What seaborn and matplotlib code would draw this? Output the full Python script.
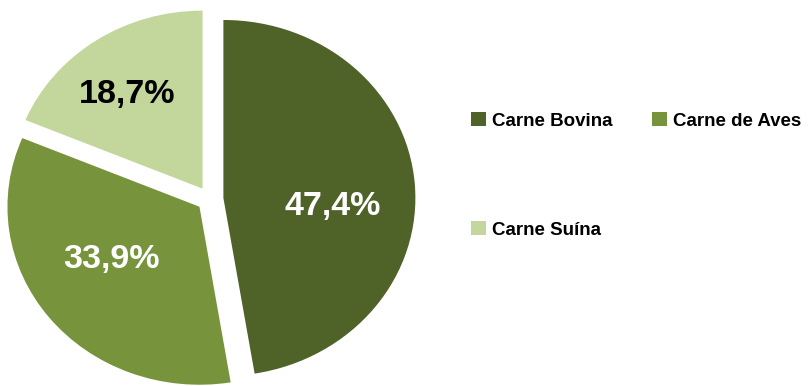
import matplotlib
matplotlib.use("Agg")
import matplotlib.pyplot as plt
import seaborn as sns

categories = ["Carne Bovina", "Carne de Aves", "Carne Suína"]
values = [47.4, 33.9, 18.7]
colors = ["#4F6228", "#77933C", "#C3D69B"]
label_colors = ["white", "white", "black"]

sns.set_style("white")
plt.rcParams["font.family"] = ["Liberation Sans", "DejaVu Sans"]

W, H = 808, 386
fig = plt.figure(figsize=(W / 100, H / 100), dpi=100)

# ellipse radii in pixels and center in pixels (from top)
rx, ry = 192, 178
cx, cy = 210, 199
lim = 1.2
aw, ah = 2 * lim * rx, 2 * lim * ry
ax = fig.add_axes([(cx - aw / 2) / W, ((H - cy) - ah / 2) / H, aw / W, ah / H])

wedges, texts, autotexts = ax.pie(
    values,
    colors=colors,
    startangle=90,
    counterclock=False,
    explode=[0.07] * len(values),
    autopct=lambda p: f"{p:.1f}%".replace(".", ","),
    pctdistance=0.6,
    wedgeprops=dict(linewidth=0),
    textprops=dict(fontsize=24.5, fontweight="bold"),
)
# small pixel nudges of the percentage labels (dx right, dy down)
nudges = [(-6, 17), (2, -13), (-12, -5)]
for t, c, (dx, dy) in zip(autotexts, label_colors, nudges):
    t.set_color(c)
    x, y = t.get_position()
    t.set_position((x + dx / rx, y - dy / ry))

ax.set_aspect("auto")
ax.set_xlim(-lim, lim)
ax.set_ylim(-lim, lim)
ax.axis("off")

order = [0, 2, 1]
leg = fig.legend(
    [wedges[i] for i in order],
    [categories[i] for i in order],
    ncol=2,
    loc="upper left",
    bbox_to_anchor=(471 / W, 1 - 112 / H),
    frameon=False,
    borderpad=0,
    borderaxespad=0,
    handlelength=0.8,
    handleheight=0.8,
    handletextpad=0.3,
    columnspacing=2.15,
    labelspacing=4.87,
    prop=dict(size=13.5, weight="bold"),
)
for t in leg.get_texts():
    t.set_color("black")

fig.savefig("out.png", dpi=100, facecolor="white")
